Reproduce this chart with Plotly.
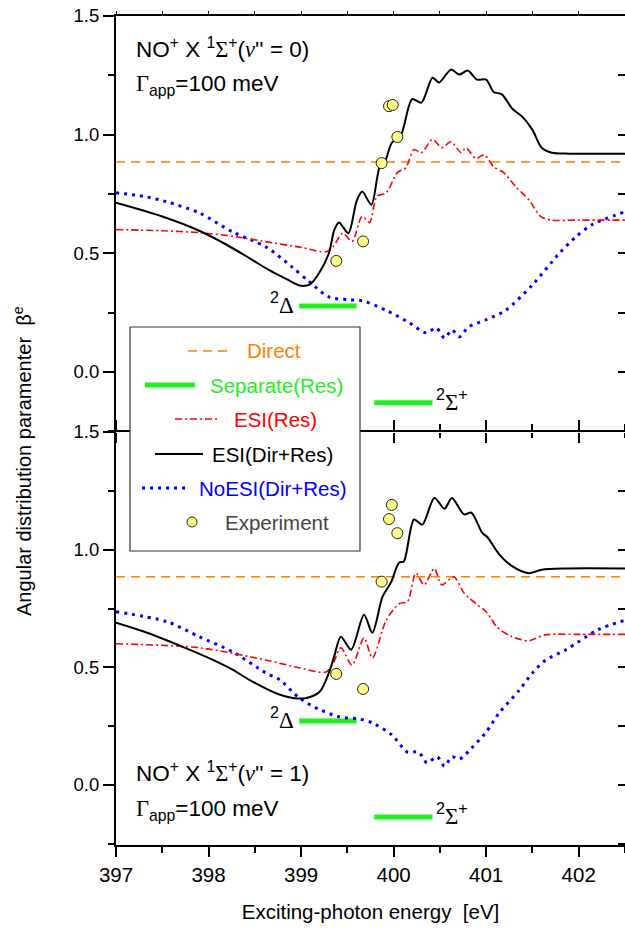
import plotly.graph_objects as go

# ---------------- data ----------------
# Upper panel: NO+ X 1Σ+ (v''=0)
x_esi_dr_v0 = [397.0, 397.5, 397.9, 398.2, 398.44, 398.65, 398.8, 398.92, 399.0, 399.1, 399.2, 399.3,
               399.36, 399.41, 399.51, 399.6, 399.66, 399.76, 399.85, 399.9, 399.98, 400.08, 400.2, 400.3,
               400.42, 400.49, 400.62, 400.71, 400.8, 400.9, 401.0, 401.08, 401.17, 401.28, 401.39, 401.5,
               401.6, 401.71, 401.9, 402.5]
y_esi_dr_v0 = [0.713, 0.655, 0.595, 0.535, 0.48, 0.43, 0.40, 0.375, 0.363, 0.37, 0.42, 0.50,
               0.60, 0.63, 0.585, 0.72, 0.76, 0.705, 0.865, 0.88, 0.966, 1.0, 1.15, 1.135,
               1.24, 1.22, 1.274, 1.253, 1.27, 1.232, 1.232, 1.18, 1.17, 1.11, 1.076, 1.02,
               0.945, 0.924, 0.92, 0.92]

x_esi_res_v0 = [397.0, 397.5, 397.9, 398.3, 398.6, 399.0, 399.27, 399.35, 399.45, 399.55, 399.66, 399.74,
                399.82, 399.92, 400.04, 400.13, 400.22, 400.3, 400.42, 400.52, 400.62, 400.73, 400.78,
                400.89, 400.98, 401.08, 401.19, 401.32, 401.46, 401.59, 401.7, 402.0, 402.5]
y_esi_res_v0 = [0.60, 0.595, 0.587, 0.57, 0.55, 0.525, 0.506, 0.53, 0.585, 0.55, 0.655, 0.63,
                0.74, 0.755, 0.84, 0.86, 0.937, 0.924, 0.98, 0.945, 0.97, 0.924, 0.945,
                0.90, 0.915, 0.865, 0.84, 0.78, 0.726, 0.655, 0.64, 0.64, 0.64]

x_noesi_v0 = [397.0, 397.3, 397.55, 397.9, 398.26, 398.62, 398.9, 399.09, 399.3, 399.52, 399.66, 399.92,
              400.17, 400.35, 400.46, 400.55, 400.63, 400.71, 400.81, 401.0, 401.21, 401.5, 401.79,
              401.97, 402.14, 402.5]
y_noesi_v0 = [0.755, 0.74, 0.717, 0.67, 0.59, 0.527, 0.443, 0.38, 0.316, 0.304, 0.300, 0.26,
              0.207, 0.165, 0.186, 0.143, 0.177, 0.148, 0.19, 0.22, 0.26, 0.367, 0.50,
              0.57, 0.62, 0.675]

x_exp_v0 = [399.38, 399.67, 399.87, 399.95, 399.99, 400.04]
y_exp_v0 = [0.468, 0.55, 0.88, 1.12, 1.125, 0.99]

# Lower panel: NO+ X 1Σ+ (v''=1)
x_esi_dr_v1 = [397.0, 397.3, 397.72, 398.0, 398.26, 398.44, 398.73, 398.91, 399.06, 399.2, 399.3, 399.36,
               399.43, 399.54, 399.68, 399.77, 399.88, 399.97, 400.06, 400.11, 400.22, 400.31, 400.44,
               400.55, 400.63, 400.76, 400.84, 400.96, 401.01, 401.14, 401.28, 401.46, 401.6, 401.86, 402.5]
y_esi_dr_v1 = [0.69, 0.652, 0.587, 0.54, 0.49, 0.447, 0.39, 0.37, 0.37, 0.396, 0.476, 0.55,
               0.63, 0.575, 0.723, 0.647, 0.80, 0.86, 0.945, 0.95, 1.128, 1.106, 1.22,
               1.174, 1.22, 1.15, 1.157, 1.07, 1.055, 0.98, 0.93, 0.90, 0.915, 0.92, 0.92]

x_esi_res_v1 = [397.0, 397.9, 398.63, 398.98, 399.27, 399.35, 399.43, 399.55, 399.68, 399.77, 399.92,
                400.06, 400.15, 400.24, 400.33, 400.44, 400.52, 400.65, 400.76, 400.89, 401.0, 401.12,
                401.28, 401.46, 401.64, 402.0, 402.5]
y_esi_res_v1 = [0.60, 0.583, 0.53, 0.498, 0.48, 0.52, 0.583, 0.51, 0.625, 0.54, 0.70,
                0.77, 0.78, 0.90, 0.85, 0.92, 0.85, 0.885, 0.816, 0.77, 0.736, 0.67,
                0.63, 0.613, 0.638, 0.64, 0.64]

x_noesi_v1 = [397.0, 397.55, 397.9, 398.26, 398.62, 398.77, 398.98, 399.2, 399.41, 399.63, 399.77, 399.98,
              400.15, 400.27, 400.36, 400.47, 400.55, 400.63, 400.71, 400.85, 401.0, 401.14, 401.36,
              401.5, 401.64, 401.86, 402.21, 402.5]
y_noesi_v1 = [0.736, 0.694, 0.63, 0.566, 0.476, 0.447, 0.37, 0.32, 0.29, 0.28, 0.264, 0.213,
              0.14, 0.14, 0.094, 0.12, 0.08, 0.12, 0.11, 0.16, 0.225, 0.306, 0.404,
              0.476, 0.53, 0.574, 0.66, 0.70]

x_exp_v1 = [399.38, 399.67, 399.87, 399.95, 399.98, 400.04]
y_exp_v1 = [0.472, 0.408, 0.864, 1.13, 1.19, 1.07]

# Direct (constant) and separate resonance bars
x_direct = [397.0, 402.5]
y_direct_v0 = [0.885, 0.885]
y_direct_v1 = [0.885, 0.885]

x_sep = [398.98, 399.6, None, 399.79, 400.42]
y_sep_v0 = [0.278, 0.278, None, -0.13, -0.13]
y_sep_v1 = [0.272, 0.272, None, -0.136, -0.136]

x_range = [397.0, 402.5]
y_range_top = [-0.253, 1.5]
y_range_bot = [-0.255, 1.5]

# ---------------- styles ----------------
ORANGE = "#FF8000"
GREEN = "#22EE22"
RED = "#FF0000"
BLUE = "#0000FF"
BLACK = "#000000"
FONT = "Liberation Sans, Arial, sans-serif"
SERIF = "Liberation Serif"

W, H = 625, 932
ML, MR, MT, MB = 116, 0, 16, 87
PW, PH = W - ML - MR, H - MT - MB


def px(x):
    return (x - ML) / PW


def py(y):
    return (H - MB - y) / PH


split = py(432)

fig = go.Figure()


def add_panel(xa, ya, y_direct, y_sep, xr, yr, xd, yd, xn, yn, xe, ye):
    common = dict(xaxis=xa, yaxis=ya, showlegend=False, hoverinfo="skip")
    fig.add_trace(go.Scatter(x=x_direct, y=y_direct, mode="lines",
                             line=dict(color=ORANGE, width=1.5, dash="9px,6px"), **common))
    fig.add_trace(go.Scatter(x=x_sep, y=y_sep, mode="lines",
                             line=dict(color=GREEN, width=5), **common))
    fig.add_trace(go.Scatter(x=xn, y=yn, mode="lines",
                             line=dict(color=BLUE, width=3, dash="3px,5px", shape="spline", smoothing=0.8),
                             **common))
    fig.add_trace(go.Scatter(x=xr, y=yr, mode="lines",
                             line=dict(color=RED, width=1.6, dash="7px,3px,2px,3px", shape="spline", smoothing=0.8),
                             **common))
    fig.add_trace(go.Scatter(x=xd, y=yd, mode="lines",
                             line=dict(color=BLACK, width=2, shape="spline", smoothing=0.8), **common))
    fig.add_trace(go.Scatter(x=xe, y=ye, mode="markers",
                             marker=dict(symbol="circle", size=11, color="#FFFF88",
                                         line=dict(color="#222222", width=1)), **common))


add_panel("x2", "y2", y_direct_v0, y_sep_v0, x_esi_res_v0, y_esi_res_v0, x_esi_dr_v0, y_esi_dr_v0,
          x_noesi_v0, y_noesi_v0, x_exp_v0, y_exp_v0)
add_panel("x", "y", y_direct_v1, y_sep_v1, x_esi_res_v1, y_esi_res_v1, x_esi_dr_v1, y_esi_dr_v1,
          x_noesi_v1, y_noesi_v1, x_exp_v1, y_exp_v1)

# dummy traces so the extra tick-only axes get drawn
for xa, ya in [("x4", "y2"), ("x2", "y3"), ("x", "y4")]:
    fig.add_trace(go.Scatter(x=[None], y=[None], xaxis=xa, yaxis=ya, showlegend=False, hoverinfo="skip"))

yax_common = dict(showline=True, linecolor="black", linewidth=2, ticks="outside", ticklen=11,
                  tickwidth=1.5, tickcolor="black", tickvals=[0, 0.5, 1.0, 1.5], tickformat=".1f",
                  tickfont=dict(family=FONT, size=18.5, color="black"), showgrid=False, zeroline=False,
                  minor=dict(ticks="outside", ticklen=6, tickwidth=1.5, tickcolor="black", dtick=0.25,
                             tick0=0, showgrid=False),
                  fixedrange=True)
right_common = dict(showline=False, ticks="inside", ticklen=7, tickwidth=1.5, tickcolor="black",
                    dtick=0.25, tick0=0, showticklabels=False, showgrid=False, zeroline=False, side="right")

fig.update_layout(
    width=W, height=H,
    margin=dict(l=ML, r=MR, t=MT, b=MB, pad=0),
    paper_bgcolor="white", plot_bgcolor="white",
    font=dict(family=FONT, color="black"),
    showlegend=False,
    # lower panel x-axis: labelled bottom axis + mirrored line/ticks (pointing up) in the middle
    xaxis=dict(domain=[0, 1], anchor="y", range=x_range, showline=True, linecolor="black", linewidth=2,
               mirror="ticks", ticks="outside", ticklen=10, tickwidth=1.5, tickcolor="black", dtick=1,
               tick0=397, minor=dict(ticks="outside", ticklen=6, tickwidth=1.5, tickcolor="black",
                                     dtick=0.5, tick0=397, showgrid=False),
               tickfont=dict(family=FONT, size=20.5, color="black"), showgrid=False, zeroline=False,
               title=dict(text="Exciting-photon energy&nbsp;&nbsp;[eV]", font=dict(family=FONT, size=20.5),
                          standoff=20)),
    # upper panel x-axis: only ticks pointing down in the middle
    xaxis2=dict(domain=[0, 1], anchor="y2", range=x_range, showline=False,
                ticks="outside", ticklen=10, tickwidth=1.5, tickcolor="black", dtick=1,
                tick0=397, minor=dict(ticks="outside", ticklen=5, tickwidth=1.5, tickcolor="black",
                                      dtick=0.5, tick0=397, showgrid=False),
                showticklabels=False, showgrid=False, zeroline=False),
    # top frame with short ticks
    xaxis4=dict(overlaying="x2", anchor="y2", side="top", range=x_range, showline=True, linecolor="black",
                linewidth=2, ticks="outside", ticklen=3, tickwidth=1.2, tickcolor="black", dtick=0.5,
                tick0=397, showticklabels=False, showgrid=False, zeroline=False),
    yaxis=dict(domain=[0, split], anchor="x", range=y_range_bot, **yax_common),
    yaxis2=dict(domain=[split, 1], anchor="x2", range=y_range_top, **yax_common),
    yaxis3=dict(overlaying="y2", anchor="x2", range=y_range_top, **right_common),
    yaxis4=dict(overlaying="y", anchor="x", range=y_range_bot, **right_common),
)

S = lambda t: f'<span style="font-family:{SERIF}">{t}</span>'
V = f'<span style="font-family:{SERIF};font-style:italic">v</span>'

annotations = []
# panel labels
for label_y, gam_y, vib in [(48, 85, "0"), (772, 810, "1")]:
    annotations.append(dict(xref="paper", yref="paper", x=px(134), y=py(label_y), xanchor="left",
                            yanchor="middle", showarrow=False,
                            text=f"NO<sup>+</sup> X <sup>1</sup>{S('Σ')}<sup>+</sup>({V}'' = {vib})",
                            font=dict(family=FONT, size=22.5, color="black")))
    annotations.append(dict(xref="paper", yref="paper", x=px(134), y=py(gam_y), xanchor="left",
                            yanchor="middle", showarrow=False,
                            text=f"{S('Γ')}<sub>app</sub>=100 meV",
                            font=dict(family=FONT, size=22.5, color="black")))

# state labels next to the separate-resonance bars
for xa, ya, ys in [("x2", "y2", y_sep_v0), ("x", "y", y_sep_v1)]:
    annotations.append(dict(xref=xa, yref=ya, x=x_sep[0] - 0.03, y=ys[0], xanchor="right",
                            yanchor="middle", yshift=3, showarrow=False,
                            text=f"<sup>2</sup>{S('Δ')}", font=dict(family=FONT, size=23, color="black")))
    annotations.append(dict(xref=xa, yref=ya, x=x_sep[4] + 0.02, y=ys[3], xanchor="left",
                            yanchor="middle", yshift=3, showarrow=False,
                            text=f"<sup>2</sup>{S('Σ')}<sup>+</sup>",
                            font=dict(family=FONT, size=23, color="black")))

# y-axis title
annotations.append(dict(xref="paper", yref="paper", x=px(22), y=py(461), xanchor="center", yanchor="middle",
                        textangle=-90, showarrow=False,
                        text="Angular distribution paramenter&nbsp;&nbsp;β<sup>e</sup>",
                        font=dict(family=FONT, size=20, color="black")))

# manual legend (white box drawn above the axes)
shapes = [dict(type="rect", xref="paper", yref="paper", x0=px(130), x1=px(360), y0=py(551), y1=py(327),
               fillcolor="white", opacity=1, line=dict(color="#333333", width=1.2), layer="above")]
legend_rows = [
    ("Direct", ORANGE, 351, (188, 232), 245, dict(color=ORANGE, width=1.5, dash="9px,6px")),
    ("Separate(Res)", GREEN, 385, (145, 195), 208, dict(color=GREEN, width=5)),
    ("ESI(Res)", RED, 419, (175, 219), 232, dict(color=RED, width=1.6, dash="7px,3px,2px,3px")),
    ("ESI(Dir+Res)", BLACK, 454, (155, 203), 210, dict(color=BLACK, width=2)),
    ("NoESI(Dir+Res)", BLUE, 488, (142, 188), 197, dict(color=BLUE, width=3, dash="3px,5px")),
]
for name, col, yy, (sx0, sx1), tx, ln in legend_rows:
    shapes.append(dict(type="line", xref="paper", yref="paper", x0=px(sx0), x1=px(sx1), y0=py(yy), y1=py(yy),
                       line=ln, layer="above"))
    annotations.append(dict(xref="paper", yref="paper", x=px(tx), y=py(yy), xanchor="left", yanchor="middle",
                            showarrow=False, text=name, font=dict(family=FONT, size=20.5, color=col)))
shapes.append(dict(type="circle", xref="paper", yref="paper", x0=px(187), x1=px(197), y0=py(527), y1=py(517),
                   fillcolor="#FFFF88", line=dict(color="#222222", width=1), layer="above"))
annotations.append(dict(xref="paper", yref="paper", x=px(223), y=py(522), xanchor="left", yanchor="middle",
                        showarrow=False, text="Experiment", font=dict(family=FONT, size=20.5, color="#444444")))

fig.update_layout(annotations=annotations, shapes=shapes)
fig.write_html("out.html")
